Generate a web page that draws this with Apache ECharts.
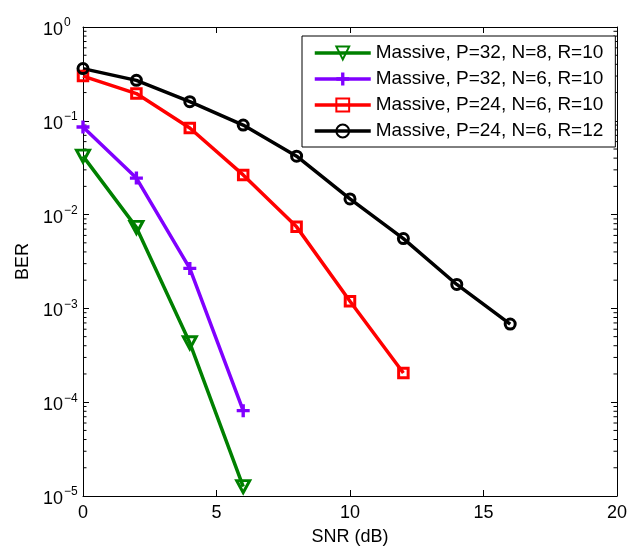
<!DOCTYPE html>
<html>
<head>
<meta charset="utf-8">
<script src="https://cdn.jsdelivr.net/npm/echarts@6/dist/echarts.min.js"></script>
<style>
html,body{margin:0;padding:0;background:#fff;}
#c{width:630px;height:551px;}
</style>
</head>
<body>
<div id="c"></div>
<script>
const snr = [0, 2, 4, 6, 8, 10, 12, 14, 16];
const seriesNames = [
  'Massive, P=32, N=8, R=10',
  'Massive, P=32, N=6, R=10',
  'Massive, P=24, N=6, R=10',
  'Massive, P=24, N=6, R=12'
];
const berP32N8R10 = [0.042, 0.0073, 0.00043, 0.0000126];
const berP32N6R10 = [0.086, 0.0245, 0.00267, 0.0000812];
const berP24N6R10 = [0.30, 0.195, 0.0837, 0.0265, 0.0074, 0.00119, 0.000205];
const berP24N6R12 = [0.36, 0.27, 0.16, 0.09, 0.042, 0.0147, 0.00555, 0.0018, 0.00068];
const xTicks = [0, 5, 10, 15, 20];
const yDecades = [-5, -4, -3, -2, -1, 0];

const pairs = arr => arr.map((v, i) => [snr[i], v]);
const minorVals = [];
yDecades.slice(0, -1).forEach(e => { for (let k = 2; k <= 9; k++) minorVals.push([0, k * Math.pow(10, e)]); });

const green = '#008000', purple = '#8000ff', red = '#ff0000', black = '#000000';
const FONT = 'Liberation Sans, Arial, Helvetica, sans-serif';
const plusPath = 'path://M3.7,0h2.6v3.7h3.7v2.6h-3.7v3.7h-2.6v-3.7h-3.7v-2.6h3.7z';

function yLabel(v) {
  const e = Math.round(Math.log10(v));
  const s = e < 0 ? '\u2212' + (-e) : String(e);
  return '{b|10}{s|' + s + '}';
}

const chart = echarts.init(document.getElementById('c'), null, {renderer: 'canvas'});
const lineSeries = (name, data, color, symbol, size, rotate, filled) => ({
  name: name,
  type: 'line',
  data: pairs(data),
  symbol: symbol,
  symbolSize: size,
  symbolRotate: rotate,
  showAllSymbol: true,
  color: color,
  lineStyle: {color: color, width: 3.5},
  itemStyle: filled ? {color: color, borderWidth: 0} : {color: 'transparent', borderColor: color, borderWidth: 3},
  emphasis: {disabled: true},
  z: 3
});

chart.setOption({
  animation: false,
  backgroundColor: '#fff',
  textStyle: {fontFamily: FONT},
  grid: {left: 83, right: 10, top: 27, bottom: 51, containLabel: false},
  legend: {
    data: seriesNames,
    orient: 'vertical',
    left: 302,
    top: 36,
    padding: [7.5, 12, 6.5, 11],
    itemWidth: 56,
    itemHeight: 16,
    itemGap: 7,
    backgroundColor: '#fff',
    borderColor: '#000',
    borderWidth: 1,
    borderRadius: 0,
    lineStyle: {width: 3.5},
    textStyle: {fontFamily: FONT, fontSize: 19, color: '#000', lineHeight: 19},
    selectedMode: false
  },
  xAxis: [{
    type: 'value', min: 0, max: 20, interval: 5,
    name: 'SNR (dB)', nameLocation: 'middle', nameGap: 32,
    nameTextStyle: {fontFamily: FONT, fontSize: 18, color: '#000'},
    axisLine: {show: true, onZero: false, lineStyle: {color: '#000', width: 1}},
    axisTick: {show: true, inside: true, length: 6, lineStyle: {color: '#000'}},
    axisLabel: {fontFamily: FONT, fontSize: 18, color: '#000', margin: 8},
    splitLine: {show: false}
  }, {
    type: 'value', min: 0, max: 20, interval: 5, position: 'top',
    axisLine: {show: true, onZero: false, lineStyle: {color: '#000', width: 1}},
    axisTick: {show: true, inside: true, length: 6, lineStyle: {color: '#000'}},
    axisLabel: {show: false},
    splitLine: {show: false}
  }],
  yAxis: [{
    type: 'log', logBase: 10, min: 1e-5, max: 1, splitNumber: 5,
    name: 'BER', nameLocation: 'middle', nameGap: 51,
    nameTextStyle: {fontFamily: FONT, fontSize: 18, color: '#000'},
    axisLine: {show: true, onZero: false, lineStyle: {color: '#000', width: 1}},
    axisTick: {show: true, inside: true, length: 6, lineStyle: {color: '#000'}},
    axisLabel: {
      formatter: yLabel, align: 'left', margin: 40, color: '#000', padding: [6, 0, 0, 0],
      rich: {
        b: {fontFamily: FONT, fontSize: 18, lineHeight: 18, verticalAlign: 'bottom', color: '#000'},
        s: {fontFamily: FONT, fontSize: 12, lineHeight: 12, verticalAlign: 'bottom', padding: [0, 0, 10, 1], color: '#000'}
      }
    },
    splitLine: {show: false}
  }, {
    type: 'log', logBase: 10, min: 1e-5, max: 1, splitNumber: 5, position: 'right',
    axisLine: {show: true, onZero: false, lineStyle: {color: '#000', width: 1}},
    axisTick: {show: true, inside: true, length: 6, lineStyle: {color: '#000'}},
    axisLabel: {show: false},
    splitLine: {show: false}
  }],
  series: [
    lineSeries(seriesNames[0], berP32N8R10, green, 'triangle', [13, 12], 180, false),
    lineSeries(seriesNames[1], berP32N6R10, purple, plusPath, 13, 0, true),
    lineSeries(seriesNames[2], berP24N6R10, red, 'rect', 9.5, 0, false),
    lineSeries(seriesNames[3], berP24N6R12, black, 'circle', 10, 0, false),
    {
      type: 'custom',
      name: 'minorTicks',
      silent: true,
      clip: false,
      z: 2,
      data: minorVals,
      renderItem: function (params, api) {
        const v = api.value(1);
        const l = api.coord([0, v]);
        const r = api.coord([20, v]);
        return {
          type: 'group',
          children: [
            {type: 'line', shape: {x1: l[0], y1: l[1], x2: l[0] + 3.5, y2: l[1]}, style: {stroke: '#000', lineWidth: 1}},
            {type: 'line', shape: {x1: r[0], y1: r[1], x2: r[0] - 3.5, y2: r[1]}, style: {stroke: '#000', lineWidth: 1}}
          ]
        };
      }
    }
  ]
});
</script>
</body>
</html>
